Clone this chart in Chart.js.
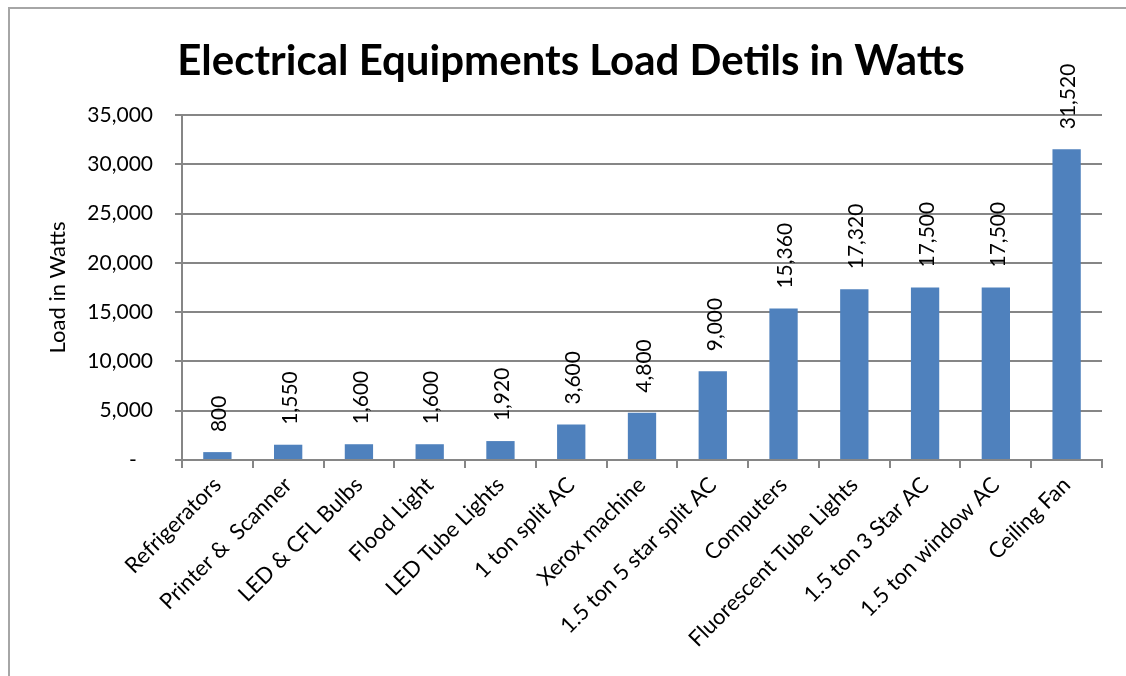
<!DOCTYPE html>
<html>
<head>
<meta charset="utf-8">
<script src="https://cdn.jsdelivr.net/npm/chart.js@4"></script>
<style>
  body { margin: 0; background: #fff; }
  #frame { position: absolute; left: 8px; top: 7px; width: 1118px; height: 669px;
           border-left: 2px solid #a6a6a6; border-top: 2px solid #a6a6a6; }
  #wrap { position: absolute; left: 0; top: 0; width: 1126px; height: 676px; }
</style>
</head>
<body>
<div id="frame"></div>
<div id="wrap"><canvas id="loadChart" width="1126" height="676"></canvas></div>
<script>
//chart data
const equipment = ["Refrigerators", "Printer &  Scanner", "LED & CFL Bulbs", "Flood Light",
  "LED Tube Lights", "1 ton split AC", "Xerox machine", "1.5 ton 5 star split AC",
  "Computers", "Fluorescent Tube Lights", "1.5 ton 3 Star AC", "1.5 ton window AC", "Ceiling Fan"];
const loadWatts = [800, 1550, 1600, 1600, 1920, 3600, 4800, 9000, 15360, 17320, 17500, 17500, 31520];
const yTicks = [0, 5000, 10000, 15000, 20000, 25000, 30000, 35000];

const FONT = "Lato";
const fmt = v => v.toLocaleString("en-US");

//draws the rotated value labels above each bar
const barLabels = {
  id: "barLabels",
  afterDatasetsDraw(chart) {
    const ctx = chart.ctx;
    const meta = chart.getDatasetMeta(0);
    ctx.save();
    ctx.font = "21px " + FONT;
    ctx.fillStyle = "#000";
    ctx.textAlign = "left";
    ctx.textBaseline = "middle";
    meta.data.forEach((bar, i) => {
      ctx.save();
      ctx.translate(bar.x + 2, bar.y - 20);
      ctx.rotate(-Math.PI / 2);
      ctx.fillText(fmt(loadWatts[i]), 0, 0);
      ctx.restore();
    });
    ctx.restore();
  }
};

new Chart(document.getElementById("loadChart"), {
  type: "bar",
  data: {
    labels: equipment,
    datasets: [{
      data: loadWatts,
      backgroundColor: "#4F81BD",
      categoryPercentage: 1,
      barPercentage: 0.4
    }]
  },
  options: {
    responsive: false,
    animation: false,
    layout: { padding: { left: 40, right: 24, top: 0, bottom: 0 } },
    plugins: {
      legend: { display: false },
      tooltip: { enabled: false },
      title: {
        display: true,
        text: "Electrical Equipments Load Detils in Watts",
        color: "#000",
        font: { family: FONT, size: 42, weight: "bold", lineHeight: 1.2 },
        padding: { top: 36, bottom: 28.6 }
      }
    },
    scales: {
      x: {
        afterFit: s => { s.height = 216; },
        grid: { display: true, drawOnChartArea: false, drawTicks: true, tickLength: 8, color: "#868686", lineWidth: 2 },
        border: { display: true, color: "#868686", width: 2 },
        ticks: { color: "#000", font: { family: FONT, size: 22 }, minRotation: 45, maxRotation: 45, autoSkip: false, padding: 4 }
      },
      y: {
        min: 0,
        max: 35000,
        afterFit: s => { s.width = 142; },
        afterBuildTicks: s => { s.ticks = yTicks.map(v => ({ value: v })); },
        grid: { color: "#868686", lineWidth: 2, tickLength: 7 },
        border: { display: true, color: "#868686", width: 2 },
        ticks: {
          color: "#000",
          font: { family: FONT, size: 21 },
          padding: 22,
          callback: v => v === 0 ? "-   " : fmt(v)
        },
        title: {
          display: true,
          text: "Load in Watts",
          color: "#000",
          font: { family: FONT, size: 22 },
          padding: { top: 5, bottom: 0 }
        }
      }
    }
  },
  plugins: [barLabels]
});
</script>
</body>
</html>
